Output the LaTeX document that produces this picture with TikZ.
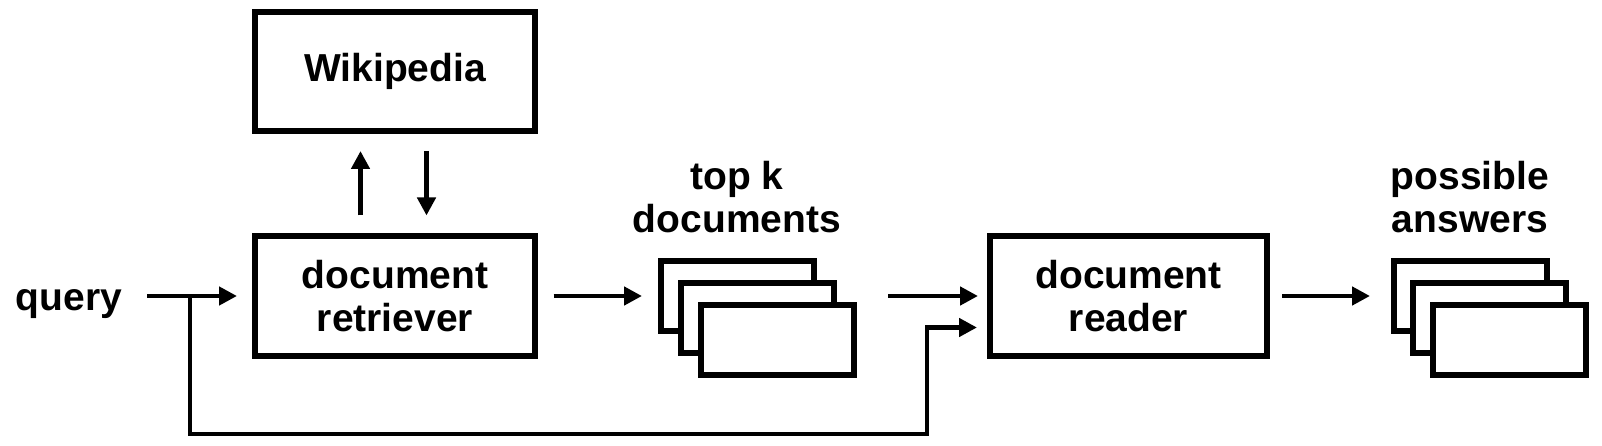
\documentclass[tikz,border=0pt]{standalone}
\usepackage{fontspec}
\setmainfont{Liberation Sans}
\usetikzlibrary{arrows.meta,calc}
\begin{document}
\begin{tikzpicture}[x=1pt,y=-1pt,
  font=\fontsize{39}{43}\selectfont\bfseries,
  box/.style={draw, line width=6pt, inner sep=0pt, align=center, minimum width=280pt, minimum height=120pt},
  page/.style={draw, fill=white, line width=6pt, minimum width=153pt, minimum height=70pt, inner sep=0pt},
  arr/.style={line width=4.5pt, -{Triangle[length=18pt,width=18pt]}},
  lbl/.style={align=center, inner sep=0pt}]
\useasboundingbox (0,0) rectangle (1602,446);

% main boxes
\node[box, minimum height=119pt] (wiki) at (395,71.5) {Wikipedia};
\node[box] (ret) at (395,296) {document\\retriever};
\node[box, minimum width=277pt] (reader) at (1128.5,296) {document\\reader};
\node[lbl, anchor=base] (query) at (69,310) {query};

% stacks of pages
\node[page] (d1) at (737.5,296) {};
\node[page] (d2) at (757,318) {};
\node[page] (d3) at (777,340) {};
\node[page] (a1) at (1470,296) {};
\node[page] (a2) at (1489,318) {};
\node[page] (a3) at (1509,340) {};

% labels above stacks (base = baseline of the last line)
\node[lbl, anchor=base] (topk) at (737,233) {top k\\documents};
\node[lbl, anchor=base] (poss) at (1470,233) {possible\\answers};

% connectors
\draw[arr, shorten <=25pt, shorten >=15pt] (query.east |- ret.west) -- (ret.west);
\draw[arr, shorten <=17.5pt, shorten >=17pt] ([xshift=-34.5pt]ret.north) -- ([xshift=-34.5pt]wiki.south);
\draw[arr, shorten <=17pt, shorten >=17.5pt] ([xshift=31.5pt]wiki.south) -- ([xshift=31.5pt]ret.north);
\draw[arr, shorten <=15.5pt, shorten >=16pt] (ret.east) -- (d1.west);
\draw[arr, shorten <=31.5pt, shorten >=9pt] (d3.east |- reader.west) -- (reader.west);
\draw[arr, shorten <=12pt, shorten >=20.5pt] (reader.east) -- (a1.west);

% feedback of the query to the reader
\coordinate (fb) at (190,296);
\coordinate (fbb) at (927,434);
\coordinate (fbin) at ($(reader.west)+(0,31.5)$);
\draw[arr, shorten >=10pt] (fb) |- (fbb) |- (fbin);
\end{tikzpicture}
\end{document}
